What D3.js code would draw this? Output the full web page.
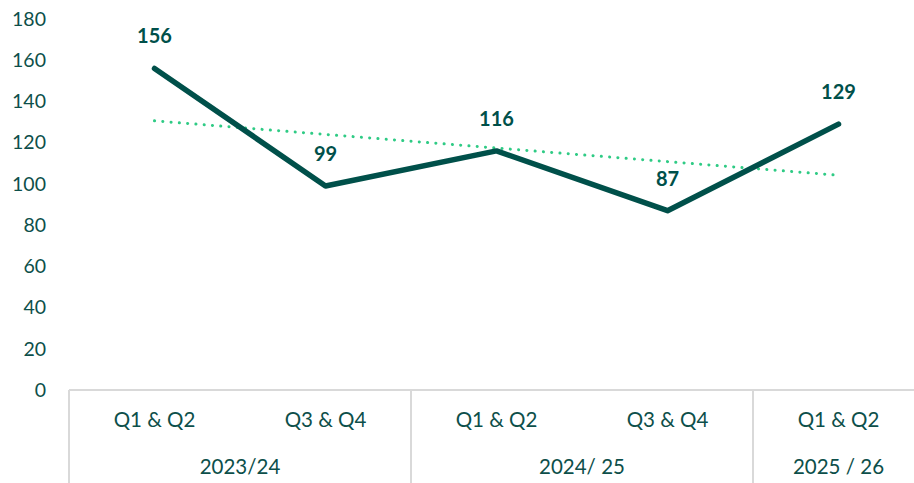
<!DOCTYPE html>
<html>
<head>
<meta charset="utf-8">
<script src="https://cdn.jsdelivr.net/npm/d3@7"></script>
<style>
  body { margin: 0; background: #fff; }
  svg { display: block; }
</style>
</head>
<body>
<script>
const width = 914;
const height = 483;

const halves = ["Q1 & Q2", "Q3 & Q4", "Q1 & Q2", "Q3 & Q4", "Q1 & Q2"];
const years = ["2023/24", "2024/ 25", "2025 / 26"];
const yearSpan = [2, 2, 1];
const values = [156, 99, 116, 87, 129];
const yTicks = [0, 20, 40, 60, 80, 100, 120, 140, 160, 180];

const textColor = "#0d4f4a";
const lineColor = "#00504a";
const trendColor = "#2fcb85";
const gridColor = "#d9d9d9";

const left = 69, bandW = 171;
const x = d3.scaleBand()
  .domain(d3.range(values.length))
  .range([left, left + bandW * values.length]);
const y = d3.scaleLinear().domain([0, 180]).range([390, 19]);

const svg = d3.select("body").append("svg")
  .attr("width", width)
  .attr("height", height)
  .attr("font-family", "Lato, 'Noto Sans', sans-serif");

// y tick labels
svg.append("g")
  .selectAll("text")
  .data(yTicks)
  .join("text")
  .attr("x", 46)
  .attr("y", d => y(d))
  .attr("dy", "0.35em")
  .attr("text-anchor", "end")
  .attr("font-size", 19.5)
  .attr("fill", textColor)
  .text(d => d);

// axis baseline and group separators
svg.append("line")
  .attr("x1", left).attr("x2", width)
  .attr("y1", y(0)).attr("y2", y(0))
  .attr("stroke", gridColor).attr("stroke-width", 2);

let start = 0;
const groups = years.map((name, i) => {
  const g = { name, start, end: start + yearSpan[i] };
  start += yearSpan[i];
  return g;
});

svg.append("g")
  .selectAll("line")
  .data(groups)
  .join("line")
  .attr("x1", d => x(d.start)).attr("x2", d => x(d.start))
  .attr("y1", y(0)).attr("y2", height)
  .attr("stroke", gridColor).attr("stroke-width", 2);

// category labels
svg.append("g")
  .selectAll("text")
  .data(halves)
  .join("text")
  .attr("x", (d, i) => x(i) + x.bandwidth() / 2)
  .attr("y", 420)
  .attr("dy", "0.35em")
  .attr("text-anchor", "middle")
  .attr("font-size", 20.5)
  .attr("fill", textColor)
  .text(d => d);

svg.append("g")
  .selectAll("text")
  .data(groups)
  .join("text")
  .attr("x", d => (x(d.start) + x(d.end - 1) + x.bandwidth()) / 2)
  .attr("y", 467)
  .attr("dy", "0.35em")
  .attr("text-anchor", "middle")
  .attr("font-size", 20.5)
  .attr("fill", textColor)
  .text(d => d.name);

const cx = i => x(i) + x.bandwidth() / 2;

// linear trend line
const n = values.length;
const mx = d3.mean(d3.range(n));
const my = d3.mean(values);
const slope = d3.sum(values, (v, i) => (i - mx) * (v - my)) / d3.sum(d3.range(n), i => (i - mx) ** 2);
const trend = d3.range(n).map(i => my + slope * (i - mx));

svg.append("path")
  .datum(trend)
  .attr("fill", "none")
  .attr("stroke", trendColor)
  .attr("stroke-width", 3)
  .attr("stroke-linecap", "round")
  .attr("stroke-dasharray", "0.1 8.2")
  .attr("d", d3.line().x((d, i) => cx(i)).y(d => y(d)));

// main line
svg.append("path")
  .datum(values)
  .attr("fill", "none")
  .attr("stroke", lineColor)
  .attr("stroke-width", 5.5)
  .attr("stroke-linecap", "round")
  .attr("stroke-linejoin", "round")
  .attr("d", d3.line().x((d, i) => cx(i)).y(d => y(d)));

// data labels
svg.append("g")
  .selectAll("text")
  .data(values)
  .join("text")
  .attr("x", (d, i) => cx(i))
  .attr("y", d => y(d) - 32)
  .attr("dy", "0.35em")
  .attr("text-anchor", "middle")
  .attr("font-size", 20)
  .attr("font-weight", "bold")
  .attr("fill", lineColor)
  .text(d => d);
</script>
</body>
</html>
